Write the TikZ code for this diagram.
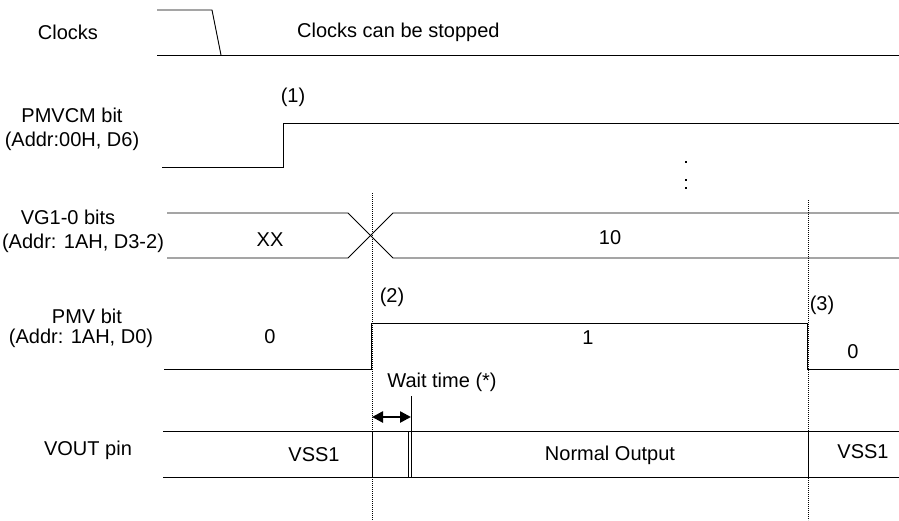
\documentclass[tikz,border=0pt]{standalone}
\usepackage{fontspec}
\setmainfont{Liberation Sans}
\usetikzlibrary{arrows.meta}
\begin{document}
\begin{tikzpicture}[x=1pt,y=-1pt,
  sig/.style={line width=0.9pt,black},
  guide/.style={line width=1pt,black,dash pattern=on 1.4pt off 0.6pt},
  lbl/.style={inner sep=0pt,font=\fontsize{20}{23}\selectfont},
  dt/.style={fill=black,inner sep=0pt,minimum size=1.2pt}]
\useasboundingbox (0,0) rectangle (899,520);
% guides
\draw[guide] (372,193) -- (372,520);
\draw[guide] (808,200) -- (808,520);
% Clocks
\draw[sig] (157,10) -- (212,10) -- (221,55);
\draw[sig] (157,55) -- (899,55);
\node[lbl] (clk) at (68,32) {Clocks};
\node[lbl,anchor=west] (clkstop) at (297,32) {Clocks can be stopped};
% PMVCM
\draw[sig] (162,167) -- (283,167) -- (283,123) -- (899,123);
\node[lbl] (pmvcm1) at (72,115) {PMVCM bit};
\node[lbl] (pmvcm2) at (72,141) {(Addr:00H, D6)};
\node[lbl] (n1) at (293,97) {(1)};
\node[dt] (d1) at (686,162) {};
\node[dt] (d2) at (686,180) {};
\node[dt] (d3) at (686,188) {};
% VG1-0
\draw[sig] (167,213) -- (348,213) -- (393,258) -- (899,258);
\draw[sig] (167,258) -- (348,258) -- (393,213) -- (899,213);
\node[lbl] (vg1) at (68,217) {VG1-0 bits};
\node[lbl] (vg2) at (83,243) {(Addr: 1AH, D3-2)};
\node[lbl] (xx) at (270,240) {XX};
\node[lbl] (ten) at (610,238) {10};
% PMV
\draw[sig] (164,369) -- (371,369) -- (371,323) -- (807,323) -- (807,369) -- (899,369);
\node[lbl] (pmv1) at (87,316) {PMV bit};
\node[lbl] (pmv2) at (81,338) {(Addr: 1AH, D0)};
\node[lbl] (n2) at (392,297) {(2)};
\node[lbl] (n3) at (822,305) {(3)};
\node[lbl] (z1) at (270,337) {0};
\node[lbl] (one) at (588,338) {1};
\node[lbl] (z2) at (853,352) {0};
% Wait time
\node[lbl] (wait) at (442,382) {Wait time (*)};
\coordinate (wa) at (372,417);
\coordinate (wb) at (411,417);
\draw[line width=2.5pt,{Triangle[length=11pt,width=11pt]}-{Triangle[length=11pt,width=11pt]}] (wa) -- (wb);
\draw[sig] (411,396) -- (411,477);
\draw[sig] (408,431) -- (408,477);
% VOUT
\draw[sig] (163,431) -- (899,431);
\draw[sig] (163,477) -- (899,477);
\draw[sig] (372,431) -- (372,477);
\draw[sig] (808,431) -- (808,477);
\node[lbl] (vout) at (88,450) {VOUT pin};
\node[lbl] (vss1) at (314,455) {VSS1};
\node[lbl] (norm) at (610,455) {Normal Output};
\node[lbl] (vss2) at (863,452) {VSS1};
\end{tikzpicture}
\end{document}
